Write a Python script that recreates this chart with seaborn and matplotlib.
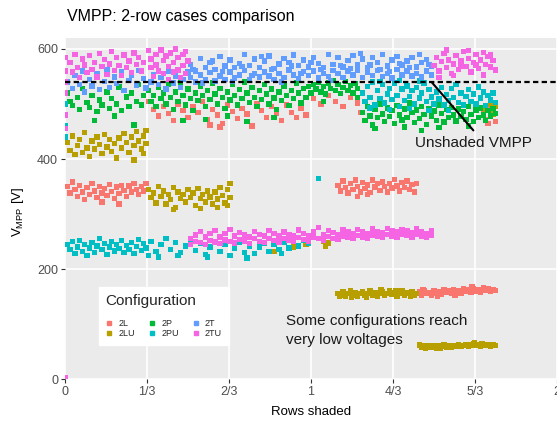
import matplotlib
matplotlib.use("Agg")
import matplotlib.pyplot as plt
from matplotlib.lines import Line2D
import seaborn as sns
import pandas as pd

# ---------------- data ----------------
configs = ["2L", "2LU", "2P", "2PU", "2T", "2TU"]
colors = ["#F8766D", "#B79F00", "#00BA38", "#00BFC4", "#619CFF", "#F564E3"]
x_ticks = [0, 1/3, 2/3, 1, 4/3, 5/3, 2]
x_tick_labels = ["0", "1/3", "2/3", "1", "4/3", "5/3", "2"]
y_ticks = [0, 200, 400, 600]
unshaded_vmpp = 540

# 2L (red)
L_mid = [(0.01,350),(0.02,338),(0.03,358),(0.04,344),(0.05,332),(0.06,352),(0.07,340),(0.08,326),(0.09,348),(0.10,336),
         (0.11,355),(0.12,342),(0.13,330),(0.14,350),(0.15,338),(0.16,346),(0.17,334),(0.18,354),(0.19,341),(0.20,328),
         (0.21,349),(0.22,337),(0.23,352),(0.24,343),(0.25,332),(0.26,351),(0.27,340),(0.28,356),(0.29,345),(0.30,335),
         (0.31,350),(0.32,342),(0.33,356),(0.15,322),(0.22,318)]
L_mid2 = [(1.11,352),(1.12,342),(1.13,360),(1.14,348),(1.15,338),(1.16,355),(1.17,345),(1.18,362),(1.19,350),(1.20,340),
          (1.21,357),(1.22,346),(1.23,353),(1.24,339),(1.25,362),(1.26,349),(1.27,355),(1.28,343),(1.29,358),(1.30,350),
          (1.31,340),(1.32,356),(1.33,347),(1.34,363),(1.35,351),(1.36,342),(1.37,357),(1.38,348),(1.39,360),(1.40,345),
          (1.41,354),(1.42,340),(1.43,356),(1.19,332),(1.23,335)]
L_high = [(0.34,505),(0.36,490),(0.38,478),(0.40,495),(0.42,483),(0.44,470),(0.46,500),(0.48,488),(0.50,476),(0.52,496),
          (0.54,484),(0.56,505),(0.58,472),(0.60,490),(0.62,480),(0.64,465),(0.66,498),(0.68,486),(0.70,474),(0.72,492),
          (0.74,482),(0.76,460),(0.78,500),(0.80,488),(0.82,476),(0.84,495),(0.86,483),(0.88,470),(0.90,498),(0.92,485),
          (0.94,475),(0.96,493),(0.98,480),(0.63,458),(0.59,462),
          (1.01,510),(1.04,500),(1.07,515),(1.10,505),(1.13,495),(1.16,512),(1.19,502),(1.20,485),
          (1.70,485),(1.71,472),(1.72,495),(1.73,478),(1.74,490),(1.75,468),(1.72,465)]
L_low = [(1.44,158),(1.45,152),(1.46,160),(1.47,155),(1.48,157),(1.49,153),(1.50,161),(1.51,156),(1.52,159),(1.53,154),
         (1.54,162),(1.55,157),(1.56,160),(1.57,155),(1.58,163),(1.59,158),(1.60,161),(1.61,156),(1.62,164),(1.63,159),
         (1.64,162),(1.65,157),(1.66,165),(1.67,160),(1.68,163),(1.69,158),(1.70,166),(1.71,161),(1.72,164),(1.73,159),
         (1.74,163),(1.75,161),(1.455,163),(1.515,150),(1.585,152),(1.655,167)]

# 2LU (olive)
LU_high = [(0.01,430),(0.02,415),(0.03,442),(0.04,408),(0.05,425),(0.06,436),(0.07,412),(0.08,448),(0.09,420),(0.10,404),
           (0.11,433),(0.12,418),(0.13,440),(0.14,426),(0.15,410),(0.16,445),(0.17,422),(0.18,435),(0.19,414),(0.20,428),
           (0.21,402),(0.22,438),(0.23,420),(0.24,446),(0.25,430),(0.26,412),(0.27,440),(0.28,425),(0.29,450),(0.30,433),
           (0.31,418),(0.32,442),(0.33,428),(0.33,452),(0.28,398),(0.32,410)]
LU_mid = [(0.34,345),(0.35,330),(0.36,338),(0.37,320),(0.38,350),(0.39,332),(0.40,342),(0.41,318),(0.42,336),(0.43,326),
          (0.44,348),(0.45,312),(0.46,340),(0.47,328),(0.48,335),(0.49,322),(0.50,344),(0.51,330),(0.52,338),(0.53,316),
          (0.54,346),(0.55,328),(0.56,336),(0.57,322),(0.58,342),(0.59,331),(0.60,318),(0.61,340),(0.62,327),(0.63,348),
          (0.64,334),(0.65,320),(0.66,344),(0.67,330),(0.67,355),(0.44,308),(0.55,310),(0.62,312),(0.66,316)]
LU_misc = [(0.85,232),(0.93,240),(0.98,244),(1.05,250),(1.06,242),(1.07,247),
           (1.71,490),(1.73,500),(1.74,482),(1.75,495)]
LU_low = [(1.11,156),(1.12,152),(1.13,158),(1.14,151),(1.15,155),(1.16,160),(1.17,153),(1.18,157),(1.19,150),(1.20,155),
          (1.21,159),(1.22,152),(1.23,156),(1.24,161),(1.25,153),(1.26,157),(1.27,150),(1.28,155),(1.29,159),(1.30,152),
          (1.31,156),(1.32,160),(1.33,154),(1.34,157),(1.35,151),(1.36,156),(1.37,160),(1.38,153),(1.39,157),(1.40,155),
          (1.41,159),(1.42,152),(1.43,156),(1.115,150),(1.165,149),(1.225,148),(1.285,162),(1.345,161),(1.405,150)]
LU_lowest = [(1.44,62),(1.45,58),(1.46,60),(1.47,57),(1.48,61),(1.49,58),(1.50,60),(1.51,56),(1.52,61),(1.53,59),
             (1.54,62),(1.55,58),(1.56,60),(1.57,57),(1.58,61),(1.59,59),(1.60,62),(1.61,59),(1.62,61),(1.63,63),
             (1.64,60),(1.65,62),(1.66,64),(1.67,61),(1.68,63),(1.69,60),(1.70,62),(1.71,61),(1.72,63),(1.73,60),
             (1.74,62),(1.75,61),(1.465,55),(1.525,56),(1.665,66),(1.695,65)]

# 2P (green)
P_a = [(0.01,520),(0.02,505),(0.03,497),(0.05,512),(0.06,490),(0.07,528),(0.09,503),(0.10,494),(0.11,515),(0.13,486),
       (0.14,507),(0.15,498),(0.17,522),(0.18,492),(0.19,510),(0.21,500),(0.22,531),(0.23,488),(0.25,513),(0.26,496),
       (0.27,520),(0.29,505),(0.30,536),(0.31,498),(0.32,515),(0.12,470),(0.20,478),(0.28,462)]
P_b = [(0.34,525),(0.35,505),(0.36,515),(0.37,495),(0.38,530),(0.39,510),(0.40,520),(0.41,500),(0.42,535),(0.43,512),
       (0.44,490),(0.45,522),(0.46,505),(0.47,540),(0.48,515),(0.49,498),(0.50,527),(0.51,510),(0.52,488),(0.53,520),
       (0.54,506),(0.55,533),(0.56,515),(0.57,496),(0.58,525),(0.59,508),(0.60,538),(0.61,518),(0.62,500),(0.63,528),
       (0.64,512),(0.65,492),(0.66,522),(0.67,507),(0.68,535),(0.69,516),(0.70,498),(0.71,526),(0.72,510),(0.73,540),
       (0.74,520),(0.75,503),(0.76,530),(0.77,512),(0.78,495),(0.79,524),(0.80,508),(0.81,536),(0.82,518),(0.83,500),
       (0.84,527),(0.85,511),(0.86,490),(0.87,522),(0.88,506),(0.89,533),(0.90,515),(0.91,497),(0.92,525),(0.93,510),
       (0.94,538),(0.95,520),(0.96,502),(0.97,528),(0.98,512),(0.99,532),(0.57,472),(0.66,478),(0.74,468),(0.48,470),
       (0.85,475)]
P_c = [(1.00,520),(1.01,535),(1.02,527),(1.03,540),(1.04,522),(1.05,532),(1.06,518),(1.07,538),(1.08,528),(1.09,543),
       (1.10,525),(1.11,535),(1.12,519),(1.13,530),(1.14,541),(1.15,524),(1.16,534),(1.17,520),(1.18,537),(1.19,528),
       (1.19,512),(1.05,505)]
P_d = [(1.21,485),(1.22,470),(1.23,495),(1.24,478),(1.25,462),(1.26,490),(1.27,475),(1.28,500),(1.29,482),(1.30,468),
       (1.31,493),(1.32,477),(1.33,488),(1.34,465),(1.35,497),(1.36,480),(1.37,471),(1.38,491),(1.39,476),(1.40,502),
       (1.41,484),(1.42,466),(1.43,489),(1.44,474),(1.45,496),(1.46,481),(1.47,463),(1.48,492),(1.49,478),(1.50,487),
       (1.51,470),(1.52,498),(1.53,483),(1.54,467),(1.55,490),(1.56,476),(1.57,494),(1.58,480),(1.59,469),(1.60,491),
       (1.61,477),(1.62,486),(1.63,472),(1.64,495),(1.65,481),(1.66,468),(1.67,489),(1.68,476),(1.69,493),(1.70,480),
       (1.71,470),(1.72,488),(1.73,478),(1.74,492),(1.75,483),(1.26,455),(1.38,458),(1.52,457),(1.64,460),(1.45,452)]

# 2PU (cyan)
PU_low = [(0.01,245),(0.02,235),(0.03,250),(0.04,228),(0.05,240),(0.06,252),(0.07,232),(0.08,244),(0.09,225),(0.10,238),
          (0.11,248),(0.12,230),(0.13,242),(0.14,255),(0.15,235),(0.16,246),(0.17,226),(0.18,240),(0.19,250),(0.20,233),
          (0.21,244),(0.22,237),(0.23,252),(0.24,230),(0.25,243),(0.26,236),(0.27,248),(0.28,228),(0.29,241),(0.30,254),
          (0.31,234),(0.32,246),(0.33,238),(0.35,250),(0.37,232),(0.39,244),(0.41,256),(0.43,236),(0.45,248),(0.47,230),
          (0.49,242),(0.51,254),(0.53,234),(0.55,246),(0.57,226),(0.59,240),(0.61,250),(0.63,232),(0.65,244),(0.67,225),
          (0.69,238),(0.71,248),(0.73,230),(0.75,242),(0.77,228),(0.79,240),(0.81,246),(0.83,232),(0.85,244),(0.87,236),
          (0.89,248),(0.91,238),(0.93,250),(0.95,242),(0.97,252),(0.99,246),(0.34,225),(0.38,222),(0.46,224),(0.58,222),
          (0.74,220),(0.88,228)]
PU_misc = [(1.03,365),(0.00,460),(0.00,440),(0.00,500)]
PU_high = [(1.21,520),(1.22,505),(1.23,532),(1.24,512),(1.25,540),(1.26,498),(1.27,525),(1.28,510),(1.29,535),(1.30,502),
           (1.31,518),(1.32,528),(1.33,508),(1.34,538),(1.35,515),(1.36,496),(1.37,527),(1.38,506),(1.39,533),(1.40,514),
           (1.41,524),(1.42,500),(1.43,530),(1.44,511),(1.45,520),(1.46,538),(1.47,504),(1.48,526),(1.49,513),(1.50,500),
           (1.51,522),(1.52,509),(1.53,530),(1.54,498),(1.55,517),(1.56,506),(1.57,528),(1.58,512),(1.59,535),(1.60,503),
           (1.61,520),(1.62,498),(1.63,514),(1.64,526),(1.65,505),(1.66,518),(1.67,500),(1.68,531),(1.69,511),(1.70,522),
           (1.71,497),(1.72,515),(1.73,507),(1.74,520),(1.75,503),(1.24,493),(1.32,490),(1.40,492),(1.48,488),(1.56,488),
           (1.28,541),(1.36,543),(1.44,542)]

# 2T (blue)
T_a = [(0.01,540),(0.03,528),(0.04,552),(0.06,536),(0.07,560),(0.08,522),(0.10,545),(0.11,533),(0.13,556),(0.14,526),
       (0.16,541),(0.17,562),(0.18,530),(0.20,549),(0.21,537),(0.23,558),(0.24,525),(0.26,543),(0.27,552),(0.29,534),
       (0.30,561),(0.32,546),(0.33,529),(0.35,540),(0.36,553),(0.38,535),(0.39,548),(0.41,527),(0.42,560),(0.44,538),
       (0.45,551),(0.47,530),(0.48,545),(0.50,558)]
T_b = [(0.51,548),(0.51,572),(0.53,560),(0.53,540),(0.55,583),(0.55,553),(0.57,545),(0.57,566),(0.59,557),(0.59,576),
       (0.61,542),(0.61,563),(0.63,586),(0.63,551),(0.65,569),(0.65,545),(0.67,558),(0.67,580),(0.69,547),(0.69,566),
       (0.71,574),(0.71,553),(0.73,590),(0.73,561),(0.75,544),(0.75,570),(0.77,556),(0.77,582),(0.79,566),(0.79,549),
       (0.81,578),(0.81,558),(0.83,551),(0.83,587),(0.85,564),(0.85,545),(0.87,573),(0.87,556),(0.89,548),(0.89,583),
       (0.91,562),(0.91,575),(0.93,553),(0.93,589),(0.95,570),(0.95,546),(0.97,580),(0.97,559),(0.99,552),(0.99,567),
       (1.01,585),(1.01,560),(1.03,547),(1.03,574),(1.05,566),(1.05,556),(1.07,590),(1.07,550),(1.09,572),(1.09,561),
       (1.11,555),(1.11,584),(1.13,567),(1.13,548),(1.15,579),(1.15,560),(1.17,553),(1.17,588),(1.19,571),(1.19,562),
       (1.21,548),(1.21,582),(1.23,566),(1.23,557),(1.25,585),(1.25,552),(1.27,561),(1.27,575),(1.29,550),(1.29,590),
       (1.31,569),(1.31,556),(1.33,580),(1.33,547),(1.35,563),(1.35,586),(1.37,553),(1.37,571),(1.39,578),(1.39,560),
       (1.41,551),(1.41,584),(1.43,567),(1.43,556),(1.45,575),(1.45,549),(1.47,560),(1.47,581),(1.49,553),(1.49,569),
       (0.52,563),(0.56,538),(0.60,578),(0.64,559),(0.68,541),(0.72,568),(0.76,552),(0.80,586),(0.84,563),(0.88,540),
       (0.92,569),(0.96,555),(1.00,576),(1.04,563),(1.08,543),(1.12,570),(1.16,565),(1.20,592),(1.24,571),(1.28,563),
       (1.32,559),(1.36,574),(1.40,566),(1.44,590),(1.48,572)]

# 2TU (pink)
TU_a = [(0.02,575),(0.03,558),(0.04,590),(0.05,566),(0.06,548),(0.07,582),(0.08,571),(0.09,557),(0.10,588),(0.11,563),
        (0.12,576),(0.13,549),(0.14,592),(0.15,568),(0.16,581),(0.17,554),(0.18,573),(0.19,595),(0.20,561),(0.21,585),
        (0.22,570),(0.23,552),(0.24,589),(0.25,566),(0.26,578),(0.27,557),(0.28,593),(0.29,572),(0.30,584),(0.31,560),
        (0.32,575),(0.34,597),(0.35,566),(0.35,582),(0.36,550),(0.37,590),(0.37,571),(0.38,560),(0.39,598),(0.40,579),
        (0.40,555),(0.41,587),(0.42,568),(0.42,545),(0.43,593),(0.44,575),(0.44,558),(0.45,600),(0.46,584),(0.46,562),
        (0.47,548),(0.48,590),(0.48,570),(0.49,556),(0.49,595),(0.50,578),
        (0.00,585),(0.00,560),(0.00,540),(0.00,520),(0.00,480),(0.00,455),(0.00,2)]
TU_b = [(1.50,570),(1.51,585),(1.52,560),(1.53,577),(1.54,592),(1.55,566),(1.56,580),(1.57,555),(1.58,573),(1.59,588),
        (1.60,563),(1.61,578),(1.62,596),(1.63,568),(1.64,583),(1.65,558),(1.66,575),(1.67,590),(1.68,565),(1.69,580),
        (1.70,553),(1.71,572),(1.72,586),(1.73,567),(1.74,579),(1.75,562),(1.52,548),(1.58,552),(1.64,597),(1.70,594),
        (1.55,598),(1.61,568),(1.67,571),(1.73,589)]
TU_low = [(0.51,255),(0.51,245),(0.53,262),(0.53,250),(0.55,248),(0.55,268),(0.57,258),(0.57,244),(0.59,265),(0.59,252),
          (0.61,249),(0.61,270),(0.63,258),(0.63,246),(0.65,264),(0.65,253),(0.67,250),(0.67,272),(0.69,260),(0.69,247),
          (0.71,266),(0.71,254),(0.73,251),(0.73,262),(0.75,258),(0.75,246),(0.77,268),(0.77,255),(0.79,250),(0.79,263),
          (0.81,260),(0.81,248),(0.83,270),(0.83,256),(0.85,252),(0.85,264),(0.87,260),(0.87,249),(0.89,267),(0.89,256),
          (0.91,253),(0.91,263),(0.93,260),(0.93,250),(0.95,271),(0.95,257),(0.97,254),(0.97,265),(0.99,261),(0.99,251),
          (1.01,268),(1.01,258),(1.03,255),(1.03,276),(1.05,262),(1.05,252),(1.07,270),(1.07,259),(1.09,256),(1.09,266),
          (1.11,263),(1.11,254),(1.13,271),(1.13,260),(1.15,257),(1.15,267),(1.17,264),(1.17,255),(1.19,272),(1.19,261),
          (1.21,258),(1.21,268),(1.23,265),(1.23,256),(1.25,273),(1.25,262),(1.27,259),(1.27,268),(1.29,266),(1.29,257),
          (1.31,274),(1.31,263),(1.33,260),(1.33,269),(1.35,267),(1.35,258),(1.37,272),(1.37,263),(1.39,261),(1.39,269),
          (1.41,266),(1.41,258),(1.43,273),(1.43,263),(1.45,260),(1.45,268),(1.47,265),(1.47,258),(1.49,270),(1.49,262)]

groups = [("2L", L_mid), ("2L", L_mid2), ("2L", L_high), ("2L", L_low),
          ("2LU", LU_high), ("2LU", LU_mid), ("2LU", LU_misc), ("2LU", LU_low), ("2LU", LU_lowest),
          ("2P", P_a), ("2P", P_b), ("2P", P_c), ("2P", P_d),
          ("2PU", PU_low), ("2PU", PU_misc), ("2PU", PU_high),
          ("2T", T_a), ("2T", T_b),
          ("2TU", TU_a), ("2TU", TU_b), ("2TU", TU_low)]

rows = []
for cfg, pts in groups:
    for x, y in pts:
        rows.append({"rows": x, "vmpp": y, "config": cfg})
df = pd.DataFrame(rows)

# ---------------- style ----------------
sns.set_theme(style="darkgrid")
plt.rcParams["font.family"] = ["Liberation Sans", "DejaVu Sans"]
plt.rcParams["mathtext.fontset"] = "custom"
plt.rcParams["mathtext.rm"] = "Liberation Sans"
plt.rcParams["mathtext.it"] = "Liberation Sans"

fig = plt.figure(figsize=(5.57, 4.23), dpi=100)
ax = fig.add_axes([65/557, 1 - 379/423, 1 - 65/557, (379 - 38)/423])
ax.set_facecolor("#EBEBEB")
fig.patch.set_facecolor("white")

sns.scatterplot(data=df, x="rows", y="vmpp", hue="config", hue_order=configs,
                palette=dict(zip(configs, colors)), marker="s", s=15, linewidth=0,
                ax=ax, legend=False, zorder=3)

ax.axhline(unshaded_vmpp, color="black", linestyle=(0, (2.4, 1.5)), lw=1.6, zorder=4)
ax.plot([1.49, 1.66], [unshaded_vmpp, 452], color="black", lw=1.5, zorder=4)
ax.text(1.66, 429, "Unshaded VMPP", ha="center", va="center", fontsize=11, color="#1A1A1A", zorder=5)
ax.text(0.90, 88, "Some configurations reach\nvery low voltages", ha="left", va="center",
        fontsize=11, linespacing=1.45, color="#1A1A1A", zorder=5)

ax.set_xlim(0, 2)
ax.set_ylim(0, 620)
ax.set_xticks(x_ticks)
ax.set_xticklabels(x_tick_labels)
ax.set_yticks(y_ticks)
ax.grid(True, color="white", lw=1.2)
for s in ax.spines.values():
    s.set_visible(False)
ax.tick_params(axis="both", length=3, width=0.8, color="#333333", labelsize=9,
               labelcolor="#4D4D4D", pad=2, direction="out", bottom=True, left=True)
ax.set_xlabel("")
ax.set_ylabel("")

fig.text(67/557, 1 - 17/423, "VMPP: 2-row cases comparison", ha="left", va="center",
         fontsize=11.5, color="black")
fig.text(311/557, 1 - 412/423, "Rows shaded", ha="center", va="center", fontsize=9.5, color="black")
fig.text(18/557, 1 - 212/423, r"V$_{\mathrm{MPP}}$ [V]", ha="center", va="center",
         rotation=90, fontsize=9.5, color="black")

handles = [Line2D([], [], marker="s", linestyle="", color=c, markersize=2.8) for c in colors]
leg = ax.legend(handles, configs, title="Configuration", ncol=3, loc="lower left",
                bbox_to_anchor=(0.069, 0.10), frameon=True, fancybox=False,
                facecolor="white", edgecolor="white", framealpha=1,
                fontsize=6.5, title_fontsize=11, handlelength=0.8, handletextpad=0.6,
                columnspacing=1.5, labelspacing=0.1, borderpad=0.75, alignment="left",
                borderaxespad=0)
leg._legend_box.sep = 8
leg.set_zorder(6)

fig.savefig("out.png", dpi=100)
